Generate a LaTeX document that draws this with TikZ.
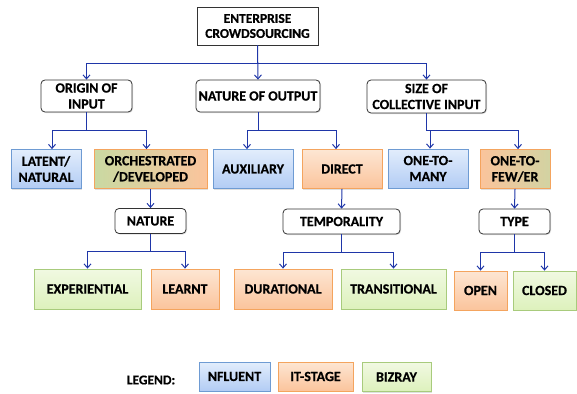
\documentclass[tikz,border=0pt]{standalone}
\usepackage{fontspec}
\setmainfont{Carlito}[BoldFont={Carlito Bold}, BoldFeatures={FakeBold=0.6}]
\usetikzlibrary{arrows.meta,shadows}
\definecolor{conn}{HTML}{1F36A8}
\definecolor{bluetop}{HTML}{E2EDFC}
\definecolor{bluebot}{HTML}{B2CCF4}
\definecolor{blueedge}{HTML}{6E9BD3}
\definecolor{orangetop}{HTML}{FDE6D3}
\definecolor{orangebot}{HTML}{FBC49C}
\definecolor{orangeedge}{HTML}{F4A45E}
\definecolor{greentop}{HTML}{F1F9E2}
\definecolor{greenbot}{HTML}{DDF1BC}
\definecolor{greenedge}{HTML}{A8CB7C}
\definecolor{mixgreen}{HTML}{C9D9A2}
\definecolor{mixgrey}{HTML}{D2D3A2}
\tikzset{
  base/.style={font=\bfseries\fontsize{14}{16}\selectfont, align=center, inner sep=0pt,
    drop shadow={opacity=0.25, shadow xshift=1pt, shadow yshift=-1pt}},
  headbox/.style={base, draw=black!80, fill=white, rounded corners=4pt, line width=0.8pt},
  rootbox/.style={base, draw=black!80, fill=white, line width=0.8pt, font=\bfseries\fontsize{13.5}{15}\selectfont},
  bluebox/.style={base, draw=blueedge, top color=bluetop, bottom color=bluebot, line width=0.8pt},
  orangebox/.style={base, draw=orangeedge, top color=orangetop, bottom color=orangebot, line width=0.8pt},
  greenbox/.style={base, draw=greenedge, top color=greentop, bottom color=greenbot, line width=0.8pt},
  arr/.style={draw=conn, line width=1pt, -{Straight Barb[length=4pt,width=7pt,line width=1pt]}},
}
\begin{document}
\begin{tikzpicture}[x=1pt,y=-1pt]
\useasboundingbox (0,0) rectangle (577,393);
% root
\node[rootbox, minimum width=121pt, minimum height=38pt] (root) at (257.5,26) {ENTERPRISE\\CROWDSOURCING};
% level 1
\node[headbox, minimum width=91pt, minimum height=32pt] (o1) at (86.5,96) {ORIGIN OF\\INPUT};
\node[headbox, minimum width=124pt, minimum height=32pt] (o2) at (258,96) {NATURE OF OUTPUT};
\node[headbox, minimum width=119pt, minimum height=33pt] (o3) at (426.5,96.5) {SIZE OF\\COLLECTIVE INPUT};
% level 2
\node[bluebox, minimum width=70pt, minimum height=39pt] (latent) at (46,169) {LATENT/\\NATURAL};
\node[base, draw=orangeedge, left color=mixgreen, right color=orangebot, line width=0.8pt, minimum width=113pt, minimum height=39pt] (orch) at (150.5,169) {ORCHESTRATED\\/DEVELOPED};
\node[bluebox, minimum width=80pt, minimum height=39pt] (aux) at (253,169) {AUXILIARY};
\node[orangebox, minimum width=80pt, minimum height=39pt] (direct) at (342,169) {DIRECT};
\node[bluebox, minimum width=80pt, minimum height=39pt] (onemany) at (428,168.5) {ONE-TO-\\MANY};
\node[base, draw=orangeedge, left color=orangebot, right color=mixgrey, line width=0.8pt, minimum width=70pt, minimum height=39pt] (onefew) at (515,169) {ONE-TO-\\FEW/ER};
% level 3 headers
\node[headbox, minimum width=71pt, minimum height=25pt] (nature) at (150.5,221) {NATURE};
\node[headbox, minimum width=117pt, minimum height=25pt] (temp) at (341.5,221.5) {TEMPORALITY};
\node[headbox, minimum width=71pt, minimum height=25pt] (type) at (514.5,221.5) {TYPE};
% leaves
\node[greenbox, minimum width=107pt, minimum height=40pt] (exp) at (87.5,289) {EXPERIENTIAL};
\node[orangebox, minimum width=68pt, minimum height=40pt] (learnt) at (185,289) {LEARNT};
\node[orangebox, minimum width=98pt, minimum height=40pt] (dur) at (283,289) {DURATIONAL};
\node[greenbox, minimum width=105pt, minimum height=40pt] (trans) at (393.5,289) {TRANSITIONAL};
\node[orangebox, minimum width=53pt, minimum height=39pt] (open) at (480.5,290.5) {OPEN};
\node[greenbox, minimum width=63pt, minimum height=39pt] (closed) at (544.5,290.5) {CLOSED};
% legend
\node[font=\bfseries\fontsize{13.5}{15}\selectfont, inner sep=0pt] (legend) at (151,380) {LEGEND:};
\node[bluebox, minimum width=71pt, minimum height=29pt] (nfl) at (234.5,376.5) {NFLUENT};
\node[orangebox, minimum width=75pt, minimum height=29pt] (its) at (315.5,376.5) {IT-STAGE};
\node[greenbox, minimum width=69pt, minimum height=29pt] (biz) at (396.5,377) {BIZRAY};
% connectors
\draw[arr] (root.south) -- (o2.north);
\draw[arr] (root.south) -- ++(0,18) -| (o1.north);
\draw[arr] (root.south) -- ++(0,18) -| (o3.north);
\draw[arr] (o1.south) -- ++(0,18) -| ([xshift=6pt]latent.north);
\draw[arr] (o1.south) -- ++(0,18) -| ([xshift=-4pt]orch.north);
\draw[arr] (o2.south) -- ++(0,18) -| ([xshift=-6pt]aux.north);
\draw[arr] (o2.south) -- ++(0,18) -| ([xshift=-6pt]direct.north);
\draw[arr] (o3.south) -- ++(0,17) -| ([xshift=2pt]onemany.north);
\draw[arr] (o3.south) -- ++(0,17) -| ([xshift=3pt]onefew.north);
\draw[arr] (orch.south) -- (nature.north);
\draw[arr] (direct.south) -- (temp.north);
\draw[arr] (onefew.south) -- (type.north);
\draw[arr] (nature.south) -- ++(0,18) -| (exp.north);
\draw[arr] (nature.south) -- ++(0,18) -| (learnt.north);
\draw[arr] (temp.south) -- ++(0,18) -| (dur.north);
\draw[arr] (temp.south) -- ++(0,18) -| (trans.north);
\draw[arr] (type.south) -- ++(0,18) -| (open.north);
\draw[arr] (type.south) -- ++(0,18) -| (closed.north);
\end{tikzpicture}
\end{document}
